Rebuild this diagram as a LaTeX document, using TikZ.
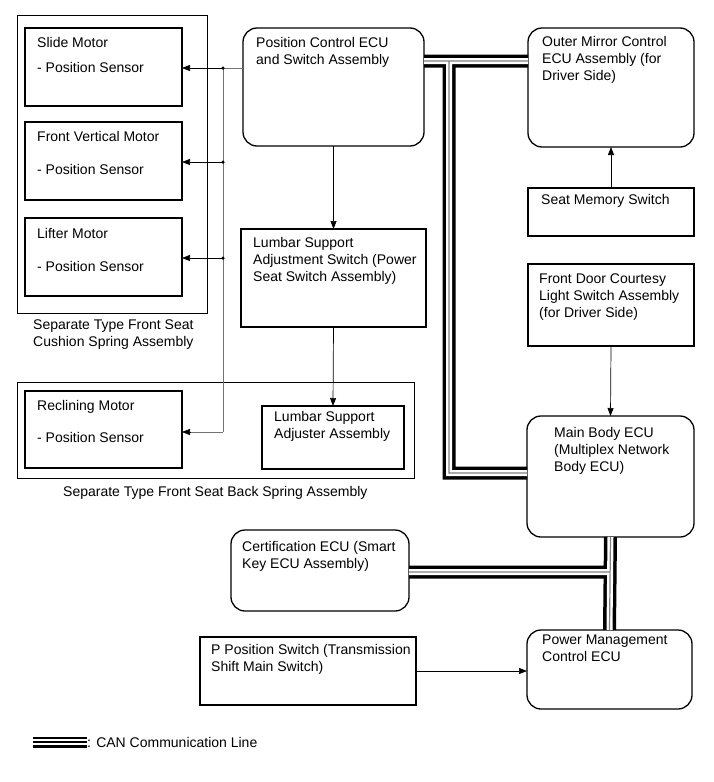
\documentclass[tikz,border=0pt]{standalone}
\usepackage{fontspec}
\setmainfont{Liberation Sans}
\usetikzlibrary{arrows.meta,calc}
\begin{document}
\begin{tikzpicture}[x=1pt,y=-1pt,
  box/.style={draw=black,line width=1.3pt,anchor=north west,inner sep=0pt,outer sep=0pt},
  rbox/.style={box,rounded corners=14pt},
  grp/.style={draw=black,line width=1pt,anchor=north west,inner sep=0pt,outer sep=0pt},
  txt/.style={anchor=north west,inner sep=0pt,align=left,font=\fontsize{14}{17}\selectfont},
  arr/.style={draw=black,line width=0.7pt,-{Triangle[length=8pt,width=6pt]}},
  bus/.style={draw=black!55,line width=0.9pt},
  dot/.style={circle,fill=black,inner sep=0pt,minimum size=3.5pt},
  canA/.style={draw=black,line width=13pt},
  canB/.style={draw=white,line width=6pt},
  canC/.style={draw=black!50,line width=1.2pt}
]
\useasboundingbox (0,0) rectangle (713,782);
\fill[white] (0,0) rectangle (713,782);

% seat cushion group
\node[grp,minimum width=190pt,minimum height=298pt] (grpA) at (17,15) {};
\node[box,minimum width=157pt,minimum height=78pt] (slide) at (25,28) {};
\node[box,minimum width=157pt,minimum height=78pt] (fvm) at (25,122) {};
\node[box,minimum width=157pt,minimum height=78pt] (lifter) at (25,218) {};
\node[txt] (tslide) at ([shift={(12,9)}]slide.north west) {Slide Motor\\[8pt]- Position Sensor};
\node[txt] (tfvm) at ([shift={(12,9)}]fvm.north west) {Front Vertical Motor\\[16pt]- Position Sensor};
\node[txt] (tlifter) at ([shift={(12,10)}]lifter.north west) {Lifter Motor\\[16pt]- Position Sensor};
\node[txt] (lgrpA) at (33,320) {Separate Type Front Seat\\Cushion Spring Assembly};

% seat back group
\node[grp,minimum width=397pt,minimum height=96pt] (grpB) at (17,382) {};
\node[box,minimum width=157pt,minimum height=77pt] (recl) at (25,391) {};
\node[box,minimum width=142pt,minimum height=63pt] (lsa) at (262,406) {};
\node[txt] (trecl) at ([shift={(12,9)}]recl.north west) {Reclining Motor\\[15pt]- Position Sensor};
\node[txt] (tlsa) at ([shift={(12,5)}]lsa.north west) {Lumbar Support\\Adjuster Assembly};
\node[txt] (lgrpB) at (63,486) {Separate Type Front Seat Back Spring Assembly};

% middle column
\node[rbox,minimum width=181pt,minimum height=118pt] (pcu) at (243,28) {};
\node[txt] (tpcu) at ([shift={(13,9)}]pcu.north west) {Position Control ECU\\and Switch Assembly};
\node[box,minimum width=185pt,minimum height=98pt] (lss) at (241,229) {};
\node[txt] (tlss) at ([shift={(12,8)}]lss.north west) {Lumbar Support\\Adjustment Switch (Power\\Seat Switch Assembly)};
\node[rbox,minimum width=178pt,minimum height=81pt] (cert) at (231,530) {};
\node[txt] (tcert) at ([shift={(11,11)}]cert.north west) {Certification ECU (Smart\\Key ECU Assembly)};
\node[box,minimum width=216pt,minimum height=68pt] (pps) at (200,637) {};
\node[txt] (tpps) at ([shift={(11,7)}]pps.north west) {P Position Switch (Transmission\\Shift Main Switch)};

% right column
\node[rbox,minimum width=166pt,minimum height=119pt] (omc) at (528,28) {};
\node[txt] (tomc) at ([shift={(14,8)}]omc.north west) {Outer Mirror Control\\ECU Assembly (for\\Driver Side)};
\node[box,minimum width=166pt,minimum height=48pt] (sms) at (528,188) {};
\node[txt] (tsms) at ([shift={(13,6)}]sms.north west) {Seat Memory Switch};
\node[box,minimum width=166pt,minimum height=82pt] (fdc) at (528,264) {};
\node[txt] (tfdc) at ([shift={(11,10)}]fdc.north west) {Front Door Courtesy\\Light Switch Assembly\\(for Driver Side)};
\node[rbox,minimum width=167pt,minimum height=121pt] (mbe) at (527,416) {};
\node[txt] (tmbe) at ([shift={(27,11)}]mbe.north west) {Main Body ECU\\(Multiplex Network\\Body ECU)};
\node[rbox,minimum width=165pt,minimum height=79pt] (pmc) at (527,630) {};
\node[txt] (tpmc) at ([shift={(15,5)}]pmc.north west) {Power Management\\Control ECU};

% motor bus
\coordinate (j1) at (223,68);
\coordinate (j2) at (223,162);
\coordinate (j3) at (223,258);
\coordinate (j4) at (223,432);
\draw[bus] (pcu.west |- j1) -- (j1) -- (j4);
\draw[bus] (j4) -- ($(recl.east |- j4)+(6,0)$);
\draw[arr] (j1) -- (slide.east |- j1);
\draw[arr] (j2) -- (fvm.east |- j2);
\draw[arr] (j3) -- (lifter.east |- j3);
\draw[arr] ($(recl.east |- j4)+(8,0)$) -- (recl.east |- j4);
\node[dot] (d1) at (j1) {};
\node[dot] (d2) at (j2) {};
\node[dot] (d3) at (j3) {};

% signal arrows
\draw[arr] (pcu.south) -- (lss.north);
\draw[arr] (lss.south) -- (lsa.north);
\draw[arr] (sms.north) -- (omc.south);
\draw[arr] (fdc.south) -- (mbe.north);
\draw[arr] (pps.east) -- (pps.east -| pmc.west);

% CAN lines
\coordinate (c1) at (449,61);
\coordinate (c2) at (449,473);
\coordinate (c3) at (mbe.south |- 0,572);
\foreach \s in {canA,canB,canC}{
  \draw[\s] (pcu.east |- c1) -- (omc.west |- c1)
            (c1) -- (c2) -- (mbe.west |- c2)
            (mbe.south) -- (pmc.north)
            (cert.east |- c3) -- (c3);
}

% legend
\coordinate (l1) at (33,742);
\coordinate (l2) at (87,742);
\draw[draw=black,line width=11pt] (l1) -- (l2);
\draw[draw=white,line width=6pt] (l1) -- (l2);
\draw[draw=black,line width=2.2pt] (l1) -- (l2);
\node[txt,anchor=west] (tleg) at (l2) {: CAN Communication Line};
\end{tikzpicture}
\end{document}
